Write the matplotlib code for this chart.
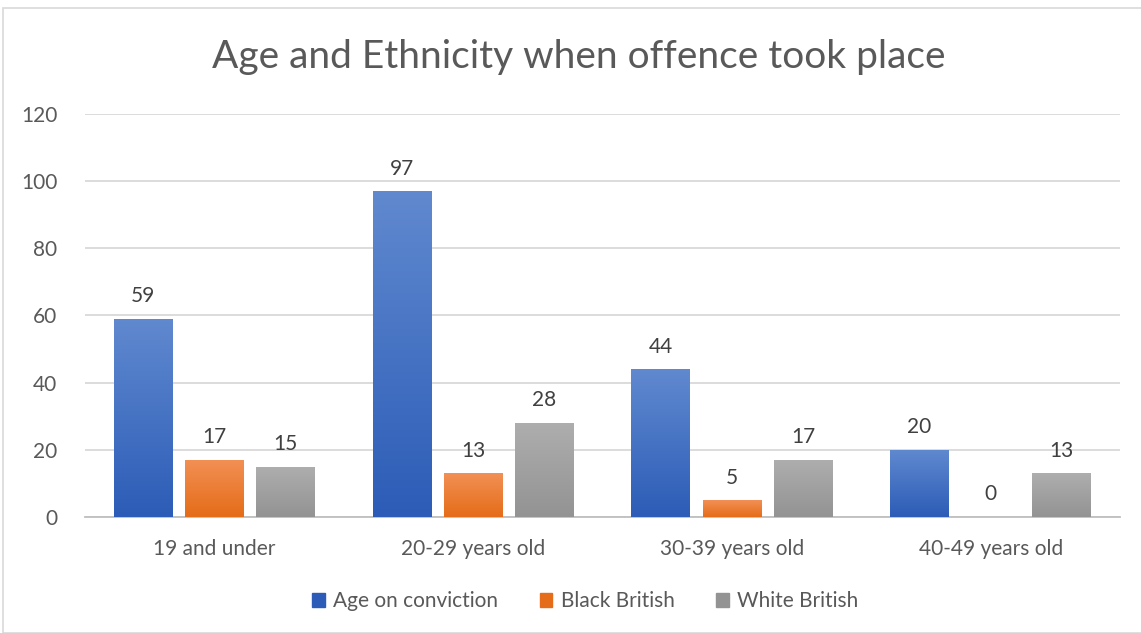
import matplotlib.pyplot as plt
import numpy as np
from matplotlib.colors import LinearSegmentedColormap
from matplotlib.patches import Rectangle

plt.rcParams['font.family'] = ['Lato', 'DejaVu Sans']

categories = ['19 and under', '20-29 years old', '30-39 years old', '40-49 years old']
series_names = ['Age on conviction', 'Black British', 'White British']
age_on_conviction = [59, 97, 44, 20]
black_british = [17, 13, 5, 0]
white_british = [15, 28, 17, 13]

# (top colour, bottom colour) of the gradient fill
gradients = [('#6089CF', '#2C5CB7'), ('#F29055', '#E56C18'), ('#AEAEAE', '#939393')]
solid = ['#4472C4', '#ED7D31', '#A5A5A5']

fig = plt.figure(figsize=(11.41, 6.33), dpi=100)
ax = fig.add_axes([0.0745, 0.1833, 0.9071, 0.6367])

x = np.arange(len(categories))
width = 0.227
offset = 0.275
text_col = '#595959'

all_values = [age_on_conviction, black_british, white_british]
for i, vals in enumerate(all_values):
    bars = ax.bar(x + (i - 1) * offset, vals, width, color=solid[i],
                  label=series_names[i], zorder=2)
    cmap = LinearSegmentedColormap.from_list('g', [gradients[i][1], gradients[i][0]])
    grad = np.linspace(0, 1, 256).reshape(-1, 1)
    for b, v in zip(bars, vals):
        if v > 0:
            im = ax.imshow(grad, cmap=cmap, origin='lower', aspect='auto',
                           extent=[b.get_x(), b.get_x() + b.get_width(), 0, v],
                           zorder=3)
            im.set_clip_path(b)
        ax.annotate(str(v), (b.get_x() + b.get_width() / 2, v),
                    xytext=(0, 9), textcoords='offset points',
                    ha='center', va='bottom', fontsize=15, color='#404040')

ax.set_xlim(-0.5, 3.5)
ax.set_ylim(0, 120)
ax.set_yticks(range(0, 121, 20))
ax.set_xticks(x)
ax.set_xticklabels(categories)
ax.tick_params(axis='both', length=0, labelsize=15, colors=text_col)
ax.tick_params(axis='x', pad=16)
ax.tick_params(axis='y', pad=20)
ax.grid(axis='y', color='#D9D9D9', linewidth=1.3, zorder=0)
ax.set_axisbelow(True)
for s in ['top', 'right', 'left']:
    ax.spines[s].set_visible(False)
ax.spines['bottom'].set_color('#BFBFBF')
ax.spines['bottom'].set_linewidth(1.3)

fig.text(0.507, 0.91, 'Age and Ethnicity when offence took place',
         ha='center', va='center', fontsize=28, color=text_col)

handles = [Rectangle((0, 0), 1, 1, color=gradients[i][1]) for i in range(3)]
fig.legend(handles, series_names, loc='center', bbox_to_anchor=(0.513, 0.05),
           ncol=3, frameon=False, fontsize=15, labelcolor=text_col,
           handlelength=0.6, handleheight=0.6, handletextpad=0.4, columnspacing=2.0)

fig.patches.append(Rectangle((0.003, 0.0), 0.999, 0.987, transform=fig.transFigure,
                             fill=False, edgecolor='#D9D9D9', linewidth=1.2))

fig.savefig('out.png', dpi=100)
